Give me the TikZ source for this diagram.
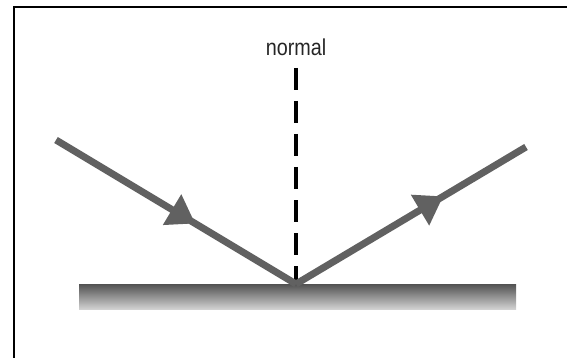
\documentclass[tikz,border=0pt]{standalone}
\usepackage{fontspec}
\setmainfont{Liberation Sans}
\usetikzlibrary{arrows.meta,decorations.markings,calc}
\definecolor{raygray}{gray}{0.38}
\tikzset{
  ray/.style={draw=raygray, line width=7pt, line cap=butt},
  rayarrow/.style={postaction={decorate}, decoration={markings,
      mark=at position #1 with {\arrow[raygray]{Triangle[length=27pt,width=34pt]}}}},
  normalline/.style={draw=black, line width=3.6pt, dash pattern=on 22pt off 11pt},
  frameline/.style={draw=black, line width=1.6pt},
}
\begin{document}
\begin{tikzpicture}[x=1pt,y=-1pt]
\useasboundingbox (0,0) rectangle (567,358);
% frame (left and top edges)
\coordinate (fbl) at (14,360);
\coordinate (ftl) at (14,7);
\coordinate (ftr) at (569,7);
\draw[frameline] (fbl) -- (ftl) -- (ftr);
% mirror
\shade[top color=black!68, bottom color=black!18] (79,284) rectangle (516,309);
\coordinate (mirror) at (79,284);
% normal
\coordinate (P) at (296,284);
\coordinate (ntop) at (296,68);
\draw[normalline] (ntop) -- ($(P)+(0,-3)$);
\node[font=\fontsize{23}{24}\selectfont, text=black!85, inner sep=0pt, xscale=0.86] (normal) at (296,47) {normal};
% rays
\coordinate (A) at (56,140);
\coordinate (B) at (526,147);
\draw[ray, rayarrow=0.58] (A) -- (P);
\draw[ray, rayarrow=0.64] (P) -- (B);
\end{tikzpicture}
\end{document}
